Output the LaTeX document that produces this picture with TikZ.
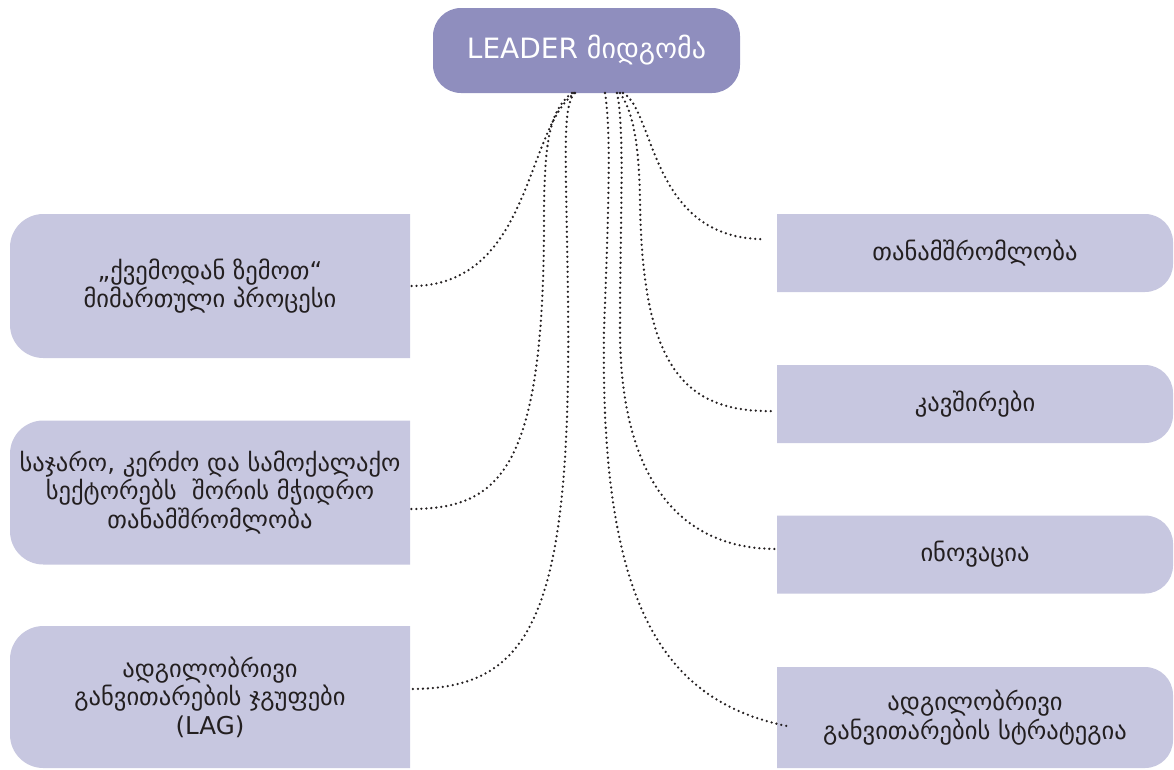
\documentclass[tikz,border=0pt]{standalone}
\usepackage{fontspec}
\setmainfont{DejaVu Sans}
\definecolor{leadfill}{RGB}{143,142,190}
\definecolor{sidefill}{RGB}{199,199,224}
\definecolor{inkdark}{RGB}{35,31,32}
\tikzset{
  leadbox/.style={fill=leadfill, rounded corners=21pt, text=white, minimum width=230.25pt, minimum height=63.75pt, inner sep=0pt, outer sep=0pt, font=\fontsize{21}{25}\selectfont},
  sidebox/.style={fill=white, text=inkdark, align=center, inner sep=0pt, outer sep=0pt, font=\fontsize{18.4}{21.5}\selectfont},
  leftbox/.style={sidebox, minimum width=300pt, minimum height=108pt, path picture={\fill[sidefill, rounded corners=25pt] (path picture bounding box.south west) rectangle ([xshift=30pt]path picture bounding box.north east);}},
  rightbox/.style={sidebox, minimum width=297pt, minimum height=58.5pt, path picture={\fill[sidefill, rounded corners=21pt] ([xshift=-30pt]path picture bounding box.south west) rectangle (path picture bounding box.north east);}},
  link/.style={color=inkdark, line width=1.9pt, line cap=round, dash pattern=on 0pt off 3.75pt}
}
\begin{document}
\begin{tikzpicture}[x=0.75pt,y=0.75pt,yscale=-1,xscale=1]
\useasboundingbox (0,0) rectangle (1174,769);

% Boxes
\node (leader) [leadbox] at (586.5,50.5) {LEADER მიდგომა};
\node (bottomup) [leftbox] at (210,286) {„ქვემოდან ზემოთ“\\მიმართული პროცესი};
\node (partners) [leftbox] at (210,492.5) {საჯარო, კერძო და სამოქალაქო\\სექტორებს~ შორის მჭიდრო\\თანამშრომლობა};
\node (lag) [leftbox, minimum height=106.5pt] at (210,697) {ადგილობრივი\\განვითარების ჯგუფები\\(LAG)};
\node (cooperation) [rightbox] at (975,253) {თანამშრომლობა};
\node (networking) [rightbox] at (975,404) {კავშირები};
\node (innovation) [rightbox] at (975,554.5) {ინოვაცია};
\node (strategy) [rightbox, minimum height=75.75pt] at (975,717.5) {ადგილობრივი\\განვითარების სტრატეგია};

% Links to the left
\draw [link] (575,0 |- leader.south) .. controls (525,128) and (532,287) .. (bottomup.east);
\draw [link] (572,0 |- leader.south) .. controls (550,110) and (544,140) .. (544,220) .. controls (544,470) and (500,509) .. (partners.east |- 0,509);
\draw [link] (574,0 |- leader.south) .. controls (562,112) and (566,150) .. (568,300) .. controls (572,620) and (530,689) .. (lag.east |- 0,689);
% Links to the right
\draw [link] (605,0 |- leader.south) .. controls (611,130) and (609,200) .. (604,330) .. controls (600,600) and (660,700) .. (strategy.west |- 0,724) [shorten >=-7.5pt];
\draw [link] (617,0 |- leader.south) .. controls (625,130) and (620,220) .. (620,330) .. controls (620,450) and (660,549) .. (innovation.west |- 0,549);
\draw [link, shorten >=4.5pt] (620,0 |- leader.south) .. controls (632,110) and (639,140) .. (640,200) .. controls (642,360) and (680,412) .. (networking.west |- 0,411);
\draw [link, shorten >=9pt] (623,0 |- leader.south) .. controls (655,110) and (650,240) .. (cooperation.west |- 0,239);

\end{tikzpicture}
\end{document}
